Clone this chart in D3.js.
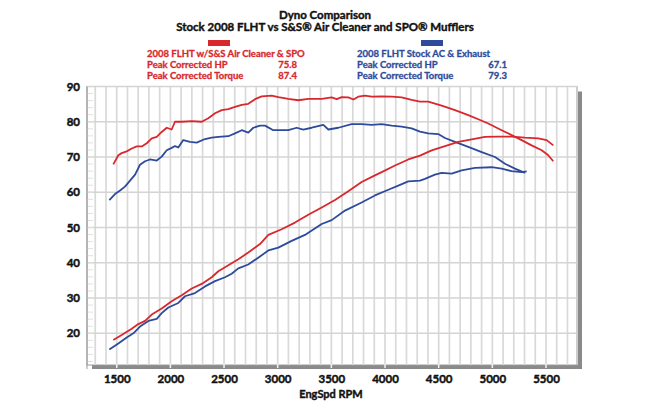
<!DOCTYPE html>
<html>
<head>
<meta charset="utf-8">
<script src="https://cdn.jsdelivr.net/npm/d3@7"></script>
<style>
  body { margin: 0; background: #fff; }
  svg text { font-family: Lato, "Open Sans", sans-serif; font-weight: bold; }
</style>
</head>
<body>
<svg id="chart" width="650" height="420"></svg>
<script>
// ---------------- data ----------------
var rpmRedTq = [1468,1515,1546,1593,1640,1686,1733,1780,1826,1873,1919,1966,2012,2043,2106,2199,2292,2353,2416,2478,2540,2602,2665,2726,2789,2851,2944,3006,3099,3192,3285,3410,3503,3550,3596,3658,3705,3751,3813,3876,3969,4062,4155,4248,4326,4403,4528,4652,4776,4869,4962,5087,5180,5273,5366,5460,5521,5568];
var redTq = [67.9,70.5,71.1,71.6,72.4,73.0,73.0,73.9,75.3,75.7,77.1,78.3,77.8,80.0,80.0,80.2,80.0,81.0,82.4,83.3,83.6,84.2,84.8,85.1,86.4,87.2,87.4,87.0,86.5,86.1,86.5,86.5,86.9,86.4,87.0,86.9,86.3,87.1,87.4,87.1,87.2,87.1,86.9,86.2,85.7,85.7,84.6,83.3,81.9,80.7,79.5,77.6,76.2,74.8,73.3,71.9,70.5,68.8];

var rpmRedHp = [1468,1546,1640,1701,1764,1826,1919,2012,2106,2199,2292,2385,2447,2540,2633,2726,2835,2913,3037,3161,3285,3410,3534,3658,3782,3906,3969,4093,4217,4326,4435,4559,4683,4808,4931,5055,5180,5304,5428,5506,5568];
var redHp = [18.1,19.5,21.3,22.6,23.5,25.3,27.0,29.1,30.8,32.7,34.0,35.9,37.6,39.3,41.0,42.9,45.3,47.9,49.5,51.4,53.6,55.7,57.8,60.3,62.9,64.8,65.7,67.6,69.3,70.4,71.9,73.1,74.3,75.0,75.7,75.8,75.8,75.5,75.3,74.8,73.3];

var rpmBlueTq = [1431,1484,1531,1577,1624,1671,1717,1764,1810,1873,1919,1966,2012,2043,2074,2120,2183,2245,2323,2385,2447,2540,2602,2665,2726,2773,2835,2882,2959,3099,3177,3239,3317,3425,3472,3565,3689,3782,3876,3969,4062,4155,4248,4326,4403,4496,4559,4652,4776,4901,5025,5118,5211,5304];
var blueTq = [57.8,59.5,60.5,61.6,63.3,65.0,67.8,68.8,69.3,69.0,70.1,71.9,72.6,73.1,72.7,74.8,74.3,74.1,75.1,75.5,75.7,75.9,76.7,77.6,76.9,78.3,78.9,78.9,77.6,77.6,78.3,77.8,78.3,79.1,77.8,78.3,79.3,79.3,79.1,79.3,78.9,78.6,78.1,77.2,76.7,76.5,75.4,74.3,72.9,71.4,70.0,68.1,66.7,65.5];

var rpmBlueHp = [1431,1515,1593,1655,1717,1795,1873,1919,1981,2074,2136,2229,2323,2416,2509,2571,2633,2726,2835,2913,3006,3130,3254,3410,3503,3627,3782,3906,4031,4124,4217,4326,4372,4465,4528,4621,4714,4839,4994,5087,5180,5273,5320];
var blueHp = [15.4,17.1,18.8,20.0,21.9,23.5,24.1,25.7,27.3,28.6,30.5,31.4,33.3,34.8,35.9,36.9,38.4,39.5,41.8,43.5,44.3,46.2,47.9,51.0,52.1,54.8,57.1,59.1,60.7,61.9,63.1,63.3,63.8,65.0,65.5,65.3,66.2,66.9,67.1,66.7,66.0,65.7,65.9];

var xTicks = [1500,2000,2500,3000,3500,4000,4500,5000,5500];
var yTicks = [20,30,40,50,60,70,80,90];

var legendRed = ["2008 FLHT w/S&S Air Cleaner & SPO","Peak Corrected HP","Peak Corrected Torque"];
var legendRedVals = ["","75.8","87.4"];
var legendBlue = ["2008 FLHT Stock AC & Exhaust","Peak Corrected HP","Peak Corrected Torque"];
var legendBlueVals = ["","67.1","79.3"];

var RED = "#d8282d", BLUE = "#2e4b9b";

// ---------------- layout ----------------
var svg = d3.select("#chart");
var PL = 87, PR = 577, PT = 86.5, PB = 365;

var x = d3.scaleLinear().domain([1223,5789]).range([PL,PR]);
var y = d3.scaleLinear().domain([11,90]).range([PB,PT]);

// heavier text: Lato bold plus a hairline stroke, closer to the sheet's type
function heavy(sel,color,w){
	return sel.style("fill",color).style("stroke",color).style("stroke-width",w||0.35);
}

// titles
heavy(svg.append("text").text("Dyno Comparison")
	.attr("x",325).attr("y",19).attr("text-anchor","middle")
	.style("font-size","11.5px"),"#111",0.4);
heavy(svg.append("text").text("Stock 2008 FLHT vs S&S\u00AE Air Cleaner and SPO\u00AE Mufflers")
	.attr("x",325).attr("y",30.5).attr("text-anchor","middle")
	.style("font-size","11.5px"),"#111",0.4);

// legend blocks
function drawLegend(g,lines,vals,color,textX,valX,rectX){
	g.append("rect").attr("x",rectX).attr("y",40).attr("width",22).attr("height",6).style("fill",color);
	lines.forEach(function(t,i){
		heavy(g.append("text").text(t).attr("x",textX).attr("y",56.5+i*11)
			.style("font-size","9.5px"),color,0.3);
		if (vals[i]) heavy(g.append("text").text(vals[i]).attr("x",valX).attr("y",56.5+i*11)
			.attr("text-anchor","end").style("font-size","9.5px"),color,0.3);
	});
}
var gLeg = svg.append("g");
drawLegend(gLeg,legendRed,legendRedVals,RED,147,297,208);
drawLegend(gLeg,legendBlue,legendBlueVals,BLUE,357,507,421);

// plot frame + shadow
svg.append("rect").attr("x",PL+5).attr("y",PB).attr("width",PR-PL-1).attr("height",4).style("fill","#8a8a8a");
svg.append("rect").attr("x",PR+1).attr("y",PT+5).attr("width",4).attr("height",PB-PT-1).style("fill","#8a8a8a");
svg.append("rect").attr("x",PL).attr("y",PT).attr("width",PR-PL).attr("height",PB-PT)
	.style("fill","#fff").style("stroke","#9a9a9a").style("stroke-width",1);

// grid
var gGrid = svg.append("g");
d3.range(1300,5701,100).forEach(function(r){
	gGrid.append("line").attr("x1",x(r)).attr("x2",x(r)).attr("y1",PT).attr("y2",PB)
		.style("stroke","#d9d9d9").style("stroke-width",1.7);
});
yTicks.forEach(function(v){
	gGrid.append("line").attr("x1",PL).attr("x2",PR).attr("y1",y(v)).attr("y2",y(v))
		.style("stroke","#d4d4d4").style("stroke-width",1.3);
});
// minor ticks along left edge
d3.range(12,90,2).forEach(function(v){
	gGrid.append("line").attr("x1",PL).attr("x2",PL+6).attr("y1",y(v)).attr("y2",y(v))
		.style("stroke","#e0e0e0").style("stroke-width",1);
});
svg.append("line").attr("x1",PL).attr("x2",PL).attr("y1",PT).attr("y2",PB+4).style("stroke","#9a9a9a");
// small white ticks through the bottom band
xTicks.forEach(function(r){
	svg.append("line").attr("x1",x(r)).attr("x2",x(r)).attr("y1",PB-1).attr("y2",PB+3)
		.style("stroke","#f2f2f2").style("stroke-width",1.5);
});

// axes
var xAxis = svg.append("g").attr("transform","translate(0,"+(PB+4)+")")
	.call(d3.axisBottom(x).tickValues(xTicks).tickSize(0).tickPadding(6).tickFormat(d3.format("d")));
var yAxis = svg.append("g").attr("transform","translate("+(PL-7)+",0)")
	.call(d3.axisLeft(y).tickValues(yTicks).tickSize(0).tickPadding(0).tickFormat(d3.format("d")));
[xAxis,yAxis].forEach(function(a){
	a.select(".domain").remove();
	heavy(a.selectAll("text").style("font-size","11.5px")
		.style("font-family","Lato, 'Open Sans', sans-serif"),"#111",0.45);
});

heavy(svg.append("text").text("EngSpd RPM").attr("x",331).attr("y",398).attr("text-anchor","middle")
	.style("font-size","11px"),"#111",0.4);

// curves
var line = d3.line().x(function(d){return x(d[0]);}).y(function(d){return y(d[1]);});
function drawCurve(rpm,vals,color){
	svg.append("path").datum(d3.zip(rpm,vals)).attr("d",line)
		.style("fill","none").style("stroke",color).style("stroke-width",1.8)
		.style("stroke-linejoin","round");
}
drawCurve(rpmBlueHp,blueHp,BLUE);
drawCurve(rpmBlueTq,blueTq,BLUE);
drawCurve(rpmRedHp,redHp,RED);
drawCurve(rpmRedTq,redTq,RED);
</script>
</body>
</html>
